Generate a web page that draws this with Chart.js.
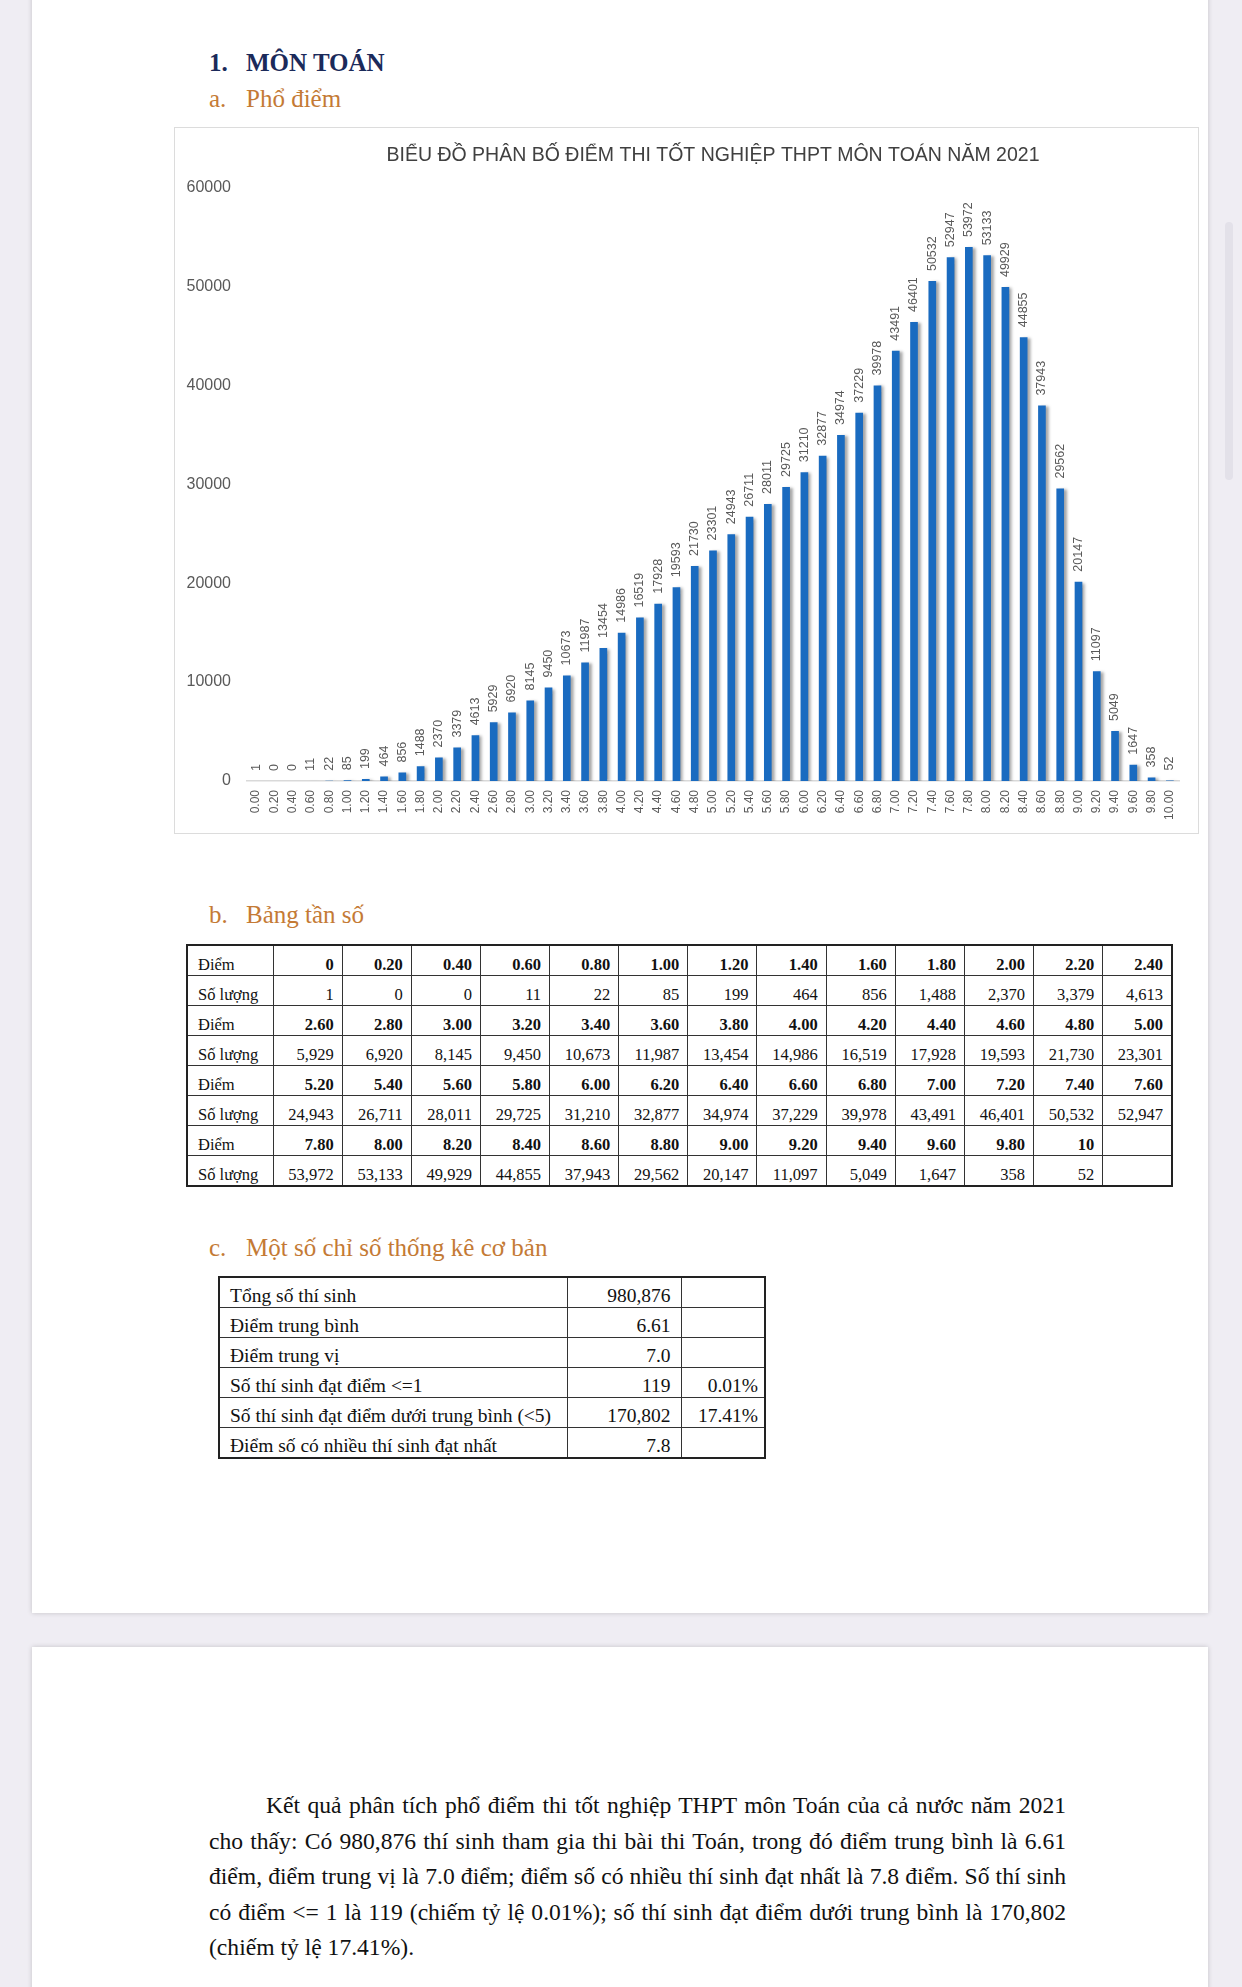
<!DOCTYPE html>
<html lang="vi">
<head>
<meta charset="UTF-8">
<title>Phổ điểm môn Toán 2021</title>
<script src="https://cdn.jsdelivr.net/npm/chart.js@4.4.0/dist/chart.umd.min.js"></script>
<style>
  html, body { margin: 0; padding: 0; }
  body {
    width: 1242px; height: 1987px; position: relative; overflow: hidden;
    background: #efedf3;
    font-family: "Liberation Serif", "Times New Roman", serif;
    color: #111;
  }
  .page { position: absolute; left: 32px; width: 1176px; background: #fff; box-shadow: 0 0 5px rgba(0,0,0,0.18); }
  #page1 { top: -10px; height: 1623px; }
  #page2 { top: 1647px; height: 360px; }
  .scroll { position: absolute; left: 1225px; top: 222px; width: 8px; height: 258px; background: #e3e1e9; border-radius: 4px; }
  .h { position: absolute; left: 209px; font-size: 25px; line-height: 30px; white-space: nowrap; }
  .h .n { display: inline-block; width: 37px; }
  .h1 { top: 48px; font-weight: bold; color: #1b2a5a; }
  .h2 { color: #c47a35; }
  #chartBox {
    position: absolute; left: 174px; top: 127px; width: 1025px; height: 707px;
    border: 1.5px solid #dcdcdc; box-sizing: border-box; background: #fff;
  }
  #chartBox canvas { position: absolute; left: 0; top: 0; }
  table { position: absolute; border-collapse: collapse; border: 2px solid #222; }
  td { border: 1px solid #333; white-space: nowrap; vertical-align: bottom; padding: 0; }
  #freq { left: 186px; top: 944px; width: 987px; table-layout: fixed; }
  #freq td { height: 28px; font-size: 16.5px; line-height: 18px; text-align: right; padding: 0 8px 1px 0; }
  #freq td.name { text-align: left; padding-left: 10px; }
  #freq tr.score td { font-weight: bold; }
  #freq tr.score td.name { font-weight: normal; }
  #stats { left: 218px; top: 1276px; width: 546px; table-layout: fixed; }
  #stats td { height: 28px; font-size: 19.5px; line-height: 20px; text-align: right; padding: 0 10px 1px 0; }
  #stats td.name { text-align: left; padding-left: 10px; }
  #stats td.pct { padding-right: 6px; }
  #para { position: absolute; left: 209px; top: 1788px; width: 857px; font-size: 24px; line-height: 35.5px; }
  #para span { display: block; text-align: justify; text-align-last: justify; white-space: nowrap; }
  #para span.first { text-indent: 57px; }
  #para span.last { text-align-last: left; }
</style>
</head>
<body>
  <div class="page" id="page1"></div>
  <div class="page" id="page2"></div>
  <div class="scroll"></div>

  <div class="h h1"><span class="n">1.</span>MÔN TOÁN</div>
  <div class="h h2" style="top:84px"><span class="n">a.</span>Phổ điểm</div>

  <div id="chartBox"><canvas id="phoDiem" width="1022" height="704"></canvas></div>

  <div class="h h2" style="top:900px"><span class="n">b.</span>Bảng tần số</div>
  <table id="freq"></table>

  <div class="h h2" style="top:1233px"><span class="n">c.</span>Một số chỉ số thống kê cơ bản</div>
  <table id="stats">
    <colgroup><col style="width:348px"><col style="width:114px"><col style="width:84px"></colgroup>
  </table>

  <div id="para">
    <span class="first">Kết quả phân tích phổ điểm thi tốt nghiệp THPT môn Toán của cả nước năm 2021</span>
    <span>cho thấy: Có 980,876 thí sinh tham gia thi bài thi Toán, trong đó điểm trung bình là 6.61</span>
    <span>điểm, điểm trung vị là 7.0 điểm; điểm số có nhiều thí sinh đạt nhất là 7.8 điểm. Số thí sinh</span>
    <span>có điểm &lt;= 1 là 119 (chiếm tỷ lệ 0.01%); số thí sinh đạt điểm dưới trung bình là 170,802</span>
    <span class="last">(chiếm tỷ lệ 17.41%).</span>
  </div>

<script>
  const scoreLabels = [
    "0.00", "0.20", "0.40", "0.60", "0.80", "1.00", "1.20", "1.40", "1.60", "1.80",
    "2.00", "2.20", "2.40", "2.60", "2.80", "3.00", "3.20", "3.40", "3.60", "3.80",
    "4.00", "4.20", "4.40", "4.60", "4.80", "5.00", "5.20", "5.40", "5.60", "5.80",
    "6.00", "6.20", "6.40", "6.60", "6.80", "7.00", "7.20", "7.40", "7.60", "7.80",
    "8.00", "8.20", "8.40", "8.60", "8.80", "9.00", "9.20", "9.40", "9.60", "9.80",
    "10.00"
  ];
  const studentCounts = [
    1, 0, 0, 11, 22, 85, 199, 464, 856, 1488,
    2370, 3379, 4613, 5929, 6920, 8145, 9450, 10673, 11987, 13454,
    14986, 16519, 17928, 19593, 21730, 23301, 24943, 26711, 28011, 29725,
    31210, 32877, 34974, 37229, 39978, 43491, 46401, 50532, 52947, 53972,
    53133, 49929, 44855, 37943, 29562, 20147, 11097, 5049, 1647, 358,
    52
  ];
  const yTicks = [0, 10000, 20000, 30000, 40000, 50000, 60000];

  const statNames = [
    "Tổng số thí sinh",
    "Điểm trung bình",
    "Điểm trung vị",
    "Số thí sinh đạt điểm <=1",
    "Số thí sinh đạt điểm dưới trung bình (<5)",
    "Điểm số có nhiều thí sinh đạt nhất"
  ];
  const statValues = ["980,876", "6.61", "7.0", "119", "170,802", "7.8"];
  const statShares = ["", "", "", "0.01%", "17.41%", ""];

  // bang tan so: 13 cot moi dong
  const freq = document.getElementById("freq");
  let html = '<colgroup><col style="width:86px">' + '<col>'.repeat(13) + '</colgroup>';
  for (let start = 0; start < scoreLabels.length; start += 13) {
    let r1 = '<tr class="score"><td class="name">Điểm</td>';
    let r2 = '<tr><td class="name">Số lượng</td>';
    for (let k = start; k < start + 13; k++) {
      if (k < scoreLabels.length) {
        let lab = scoreLabels[k];
        if (k === 0) lab = "0";
        if (lab === "10.00") lab = "10";
        r1 += "<td>" + lab + "</td>";
        r2 += "<td>" + studentCounts[k].toLocaleString("en-US") + "</td>";
      } else {
        r1 += "<td></td>";
        r2 += "<td></td>";
      }
    }
    html += r1 + "</tr>" + r2 + "</tr>";
  }
  freq.innerHTML = html;

  const stats = document.getElementById("stats");
  statNames.forEach((name, i) => {
    const tr = document.createElement("tr");
    tr.innerHTML = '<td class="name"></td><td></td><td class="pct"></td>';
    tr.children[0].textContent = name;
    tr.children[1].textContent = statValues[i];
    tr.children[2].textContent = statShares[i];
    stats.appendChild(tr);
  });

  // co chu doan van cho vua 857px (dong dai nhat khong tran)
  const para = document.getElementById("para");
  let widest = 0;
  para.querySelectorAll("span").forEach(sp => {
    const probe = document.createElement("span");
    probe.style.cssText = "display:inline-block;white-space:nowrap;position:absolute;visibility:hidden";
    probe.textContent = sp.textContent;
    para.appendChild(probe);
    const w = probe.getBoundingClientRect().width + (sp.classList.contains("first") ? 57 : 0);
    widest = Math.max(widest, w);
    probe.remove();
  });
  if (widest > 852) para.style.fontSize = (24 * 852 / widest).toFixed(2) + "px";

  // bong do cua cot + nhan so lieu xoay doc
  const barLabels = {
    id: "barLabels",
    beforeDatasetsDraw(chart) {
      const c = chart.ctx;
      c.save();
      c.shadowColor = "rgba(0,0,0,0.35)";
      c.shadowBlur = 3;
      c.shadowOffsetX = 3;
      c.shadowOffsetY = 1;
    },
    afterDatasetsDraw(chart) {
      const c = chart.ctx;
      c.restore();
      const meta = chart.getDatasetMeta(0);
      c.save();
      c.font = '12.5px "Liberation Sans"';
      c.fillStyle = "#595959";
      c.textAlign = "left";
      c.textBaseline = "middle";
      meta.data.forEach((bar, i) => {
        c.save();
        c.translate(bar.x, bar.y - 10);
        c.rotate(-Math.PI / 2);
        c.fillText(String(studentCounts[i]), 0, 0);
        c.restore();
      });
      c.restore();
    }
  };

  new Chart("phoDiem", {
    type: "bar",
    data: {
      labels: scoreLabels,
      datasets: [{
        data: studentCounts,
        backgroundColor: "#1a6bc0",
        barPercentage: 0.42,
        categoryPercentage: 1
      }]
    },
    options: {
      responsive: false,
      animation: false,
      devicePixelRatio: 1,
      layout: { padding: { left: 0, right: 18, top: 1, bottom: 0 } },
      plugins: {
        legend: { display: false },
        tooltip: { enabled: false },
        title: {
          display: true,
          fullSize: false,
          text: "BIỂU ĐỒ PHÂN BỐ ĐIỂM THI TỐT NGHIỆP THPT MÔN TOÁN NĂM 2021",
          color: "#404040",
          font: { family: "Liberation Sans", size: 19.5, weight: "normal" },
          padding: { top: 15, bottom: 20 }
        }
      },
      scales: {
        x: {
          grid: { display: false, drawTicks: false },
          border: { color: "#d9d9d9", width: 1.5 },
          ticks: {
            autoSkip: false, minRotation: 90, maxRotation: 90,
            color: "#595959", padding: 9,
            font: { family: "Liberation Sans", size: 12 }
          },
          afterFit(s) { s.height = 51; }
        },
        y: {
          min: 0, max: 60000,
          grid: { display: false, drawTicks: false },
          border: { display: false },
          afterBuildTicks(s) { s.ticks = yTicks.map(v => ({ value: v })); },
          ticks: {
            color: "#595959", padding: 16,
            font: { family: "Liberation Sans", size: 16 },
            callback: v => String(v)
          },
          afterFit(s) { s.width = 72; }
        }
      }
    },
    plugins: [barLabels]
  });
</script>
</body>
</html>
